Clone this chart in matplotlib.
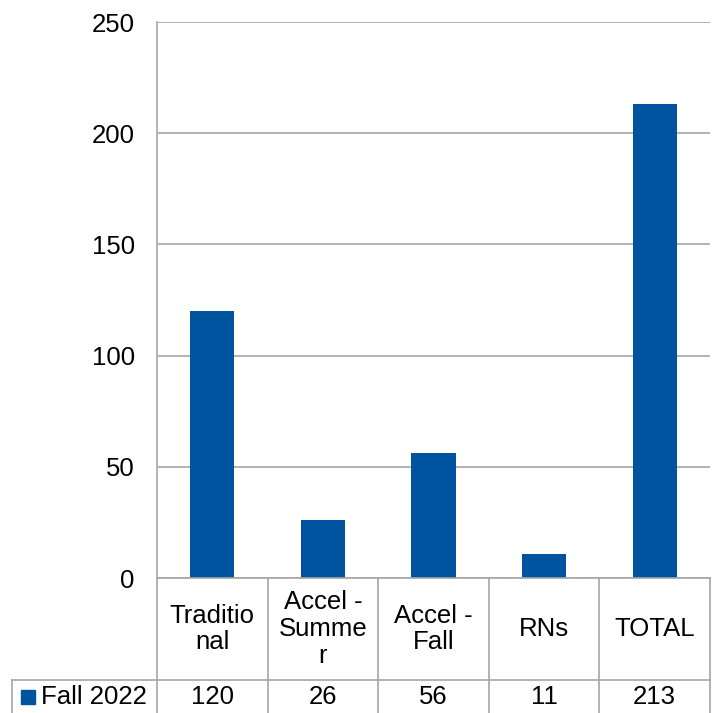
import matplotlib.pyplot as plt
import matplotlib.transforms as mtransforms

plt.rcParams['font.family'] = ['Liberation Sans', 'DejaVu Sans']

categories = ["Traditio\nnal", "Accel -\nSumme\nr", "Accel -\nFall", "RNs", "TOTAL"]
values = [120, 26, 56, 11, 213]
series_name = "Fall 2022"
yticks = [0, 50, 100, 150, 200, 250]

bar_color = "#00539F"
grid_color = "#A6A6A6"
fs = 18.5

fig = plt.figure(figsize=(7.17, 7.13), dpi=100)
ax = fig.add_axes([157 / 717, 1 - 578 / 713, 553 / 717, 556 / 713])

x = list(range(len(values)))
ax.bar(x, values, width=0.4, color=bar_color, zorder=3)
ax.set_xlim(-0.5, len(values) - 0.5)
ax.set_ylim(0, 250)
ax.set_yticks(yticks)
ax.set_yticklabels([str(t) for t in yticks], fontsize=fs)
ax.tick_params(axis='y', length=0, pad=16)
ax.tick_params(axis='x', length=0, labelbottom=False)
ax.yaxis.grid(True, color=grid_color, linewidth=1.2, zorder=0)
for s in ['top', 'right', 'bottom']:
    ax.spines[s].set_visible(False)
ax.spines['left'].set_color(grid_color)
ax.spines['left'].set_linewidth(1.2)

# data table below the axes
blend = mtransforms.blended_transform_factory(ax.transData, ax.transAxes)
px_per_cat = 553 / len(values)


def px_to_x(px):
    return -0.5 + (px - 157) / px_per_cat


row1 = -102 / 556
row2 = -140 / 556
lw = 1.2
left_data = px_to_x(12)

ax.plot([-0.5, len(values) - 0.5], [0, 0], transform=blend, color=grid_color, lw=lw, clip_on=False, zorder=4)
ax.plot([left_data, len(values) - 0.5], [row1, row1], transform=blend, color=grid_color, lw=lw, clip_on=False)
for i in range(len(values) + 1):
    ax.plot([i - 0.5, i - 0.5], [0, row2], transform=blend, color=grid_color, lw=lw, clip_on=False)
ax.plot([left_data, left_data], [row1, row2], transform=blend, color=grid_color, lw=lw, clip_on=False)

for i, (c, v) in enumerate(zip(categories, values)):
    ax.text(i, row1 / 2, c, transform=blend, ha='center', va='center', fontsize=fs,
            linespacing=1.15, clip_on=False)
    ax.text(i, -(697 - 578) / 556, str(v), transform=blend, ha='center', va='center',
            fontsize=fs, clip_on=False)

# legend key in the table
key_y = -(697 - 578) / 556
ax.plot([px_to_x(28)], [key_y], transform=blend, marker='s', markersize=10, color=bar_color,
        linestyle='none', clip_on=False)
ax.text(px_to_x(41), key_y, series_name, transform=blend, ha='left', va='center', fontsize=fs,
        clip_on=False)

fig.savefig("out.png", dpi=100)
